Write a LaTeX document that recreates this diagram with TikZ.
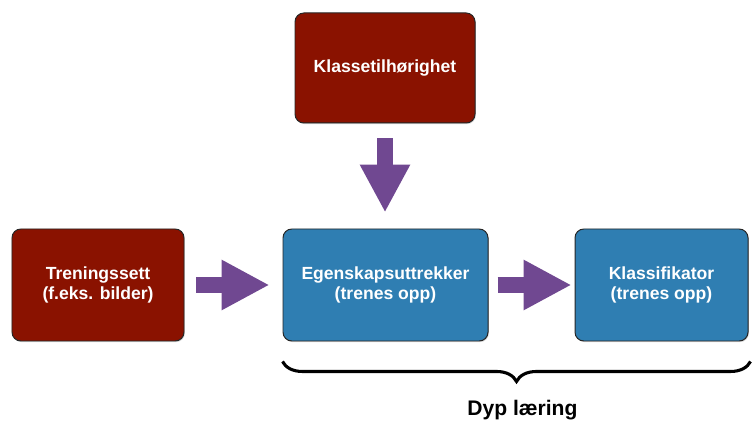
\documentclass[tikz,border=0pt]{standalone}
\usepackage{fontspec}
\setmainfont{Liberation Sans}
\usetikzlibrary{positioning,arrows.meta,decorations.pathreplacing,shadows}

\definecolor{boxred}{RGB}{138,18,0}
\definecolor{boxblue}{RGB}{47,126,178}
\definecolor{arrowpurple}{RGB}{112,72,145}

\tikzset{
  box/.style={draw=black!85, line width=0.7pt, rounded corners=0.22cm,
    align=center, text=white, inner sep=0pt,
    font=\bfseries\fontsize{12.5}{14.5}\selectfont,
    drop shadow={opacity=0.35, shadow xshift=0.6pt, shadow yshift=-0.8pt}},
  redbox/.style={box, fill=boxred},
  bluebox/.style={box, fill=boxblue},
  bigarrow/.style={draw=arrowpurple, line width=0.4cm,
    -{Triangle[length=1.2cm,width=1.175cm]}}
}

\begin{document}
\begin{tikzpicture}
    \useasboundingbox (0,0) rectangle (18.8,10.575);
    % boxes
    \node[redbox, minimum width=4.5cm, minimum height=2.75cm] (klasse) at (9.625,8.875) {Klassetilhørighet};
    \node[redbox, minimum width=4.3cm, minimum height=2.8cm] (trening) at (2.45,3.45) {Treningssett\\(f.eks. bilder)};
    \node[bluebox, minimum width=5.125cm, minimum height=2.8cm] (egenskap) at (9.6375,3.45) {Egenskapsuttrekker\\(trenes opp)};
    \node[bluebox, minimum width=4.325cm, minimum height=2.8cm] (klassifikator) at (16.5375,3.45) {Klassifikator\\(trenes opp)};
    % arrows
    \draw[bigarrow, shorten <=0.375cm, shorten >=0.4cm] (klasse.south) -- (klasse.south |- egenskap.north);
    \draw[bigarrow, shorten <=0.3cm, shorten >=0.325cm] (trening) -- (egenskap);
    \draw[bigarrow, shorten <=0.225cm, shorten >=0.075cm] (egenskap) -- (klassifikator);
    % brace
    \draw[line width=2.2pt, decorate, decoration={brace, mirror, amplitude=0.5cm}]
        ([yshift=-0.5cm]egenskap.south west) -- ([xshift=0.05cm,yshift=-0.5cm]klassifikator.south east);
    \node[font=\bfseries\fontsize{15}{18}\selectfont] (dyp) at (13.06,0.325) {Dyp læring};
\end{tikzpicture}
\end{document}
